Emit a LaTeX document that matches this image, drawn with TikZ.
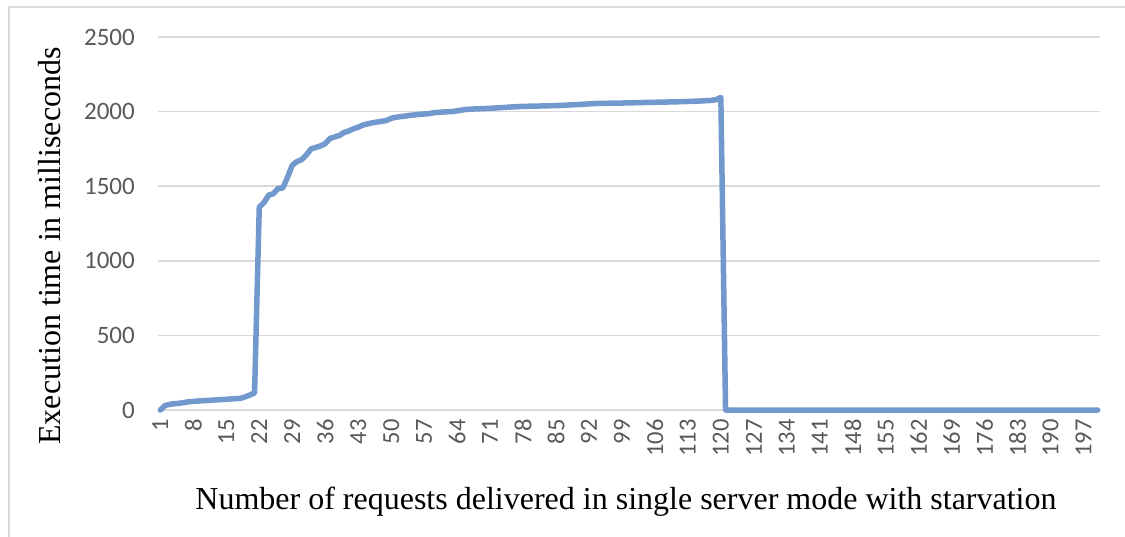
\documentclass[tikz,border=0pt]{standalone}
\usepackage{fontspec}
\setmainfont{Liberation Serif}
\newfontfamily\tickfont{Carlito}
\definecolor{gridgray}{HTML}{D9D9D9}
\definecolor{ticktext}{HTML}{595959}
\definecolor{seriesblue}{HTML}{7199CD}
\tikzset{
  gridline/.style={draw=gridgray, line width=1.5pt},
  framebox/.style={draw=gridgray, line width=2pt},
  ylab/.style={anchor=east, inner sep=0pt, text=ticktext, font=\tickfont\fontsize{25}{25}\selectfont},
  xlab/.style={anchor=east, rotate=90, inner sep=0pt, text=ticktext, font=\tickfont\fontsize{24.5}{25}\selectfont},
  axtitle/.style={inner sep=0pt, font=\fontsize{32}{32}\selectfont},
  series/.style={draw=seriesblue, line width=5.5pt, line join=round, line cap=round}
}
\begin{document}
\begin{tikzpicture}[x=1pt,y=-1pt]
\useasboundingbox (0,0) rectangle (1125,537);
% chart frame (top and left edges)
\draw[framebox] (1130,7) -- (9,7) -- (9,545);
% horizontal gridlines and value labels
\foreach \v in {0,500,...,2500}{
  \pgfmathsetmacro{\yy}{410-\v*0.1492}
  \draw[gridline] (158,\yy) -- (1100,\yy);
  \node[ylab] (yl\v) at (135,\yy) {\v};
}
% category labels, every seventh request
\foreach \c in {1,8,...,197}{
  \pgfmathsetmacro{\xx}{158+(\c-0.5)*4.71}
  \node[xlab] (xl\c) at (\xx,419) {\c};
}
% axis titles
\node[axtitle, rotate=90] (ytitle) at (50,246) {Execution time in milliseconds};
\node[axtitle] (xtitle) at (626,502) {Number of requests delivered in single server mode with starvation};
% execution time series
\begin{scope}[shift={(155.645,410)}, x=4.71pt, y=0.1492pt]
\draw[series] plot coordinates {
 (1,0) (2,30) (3,38) (4,42) (5,45) (6,50) (7,55) (8,58) (9,60) (10,62)
 (12,66) (14,70) (16,74) (18,78) (19,88) (20,100) (21,115)
 (22,1360) (23,1390) (24,1440) (25,1450) (26,1485) (27,1488) (28,1560)
 (29,1640) (30,1665) (31,1678) (32,1710) (33,1750) (34,1760) (35,1770)
 (36,1785) (37,1820) (38,1830) (39,1840) (40,1860) (41,1870) (42,1885)
 (43,1895) (44,1910) (45,1918) (46,1925) (47,1930) (48,1935) (49,1940)
 (50,1955) (51,1962) (52,1966) (53,1970) (54,1975) (55,1978) (56,1982)
 (57,1984) (58,1986) (59,1992) (60,1995) (62,1999) (63,2000) (64,2005)
 (65,2010) (66,2015) (68,2018) (71,2022) (75,2030) (78,2035) (85,2040)
 (90,2048) (94,2055) (100,2058) (105,2062) (110,2065) (115,2070)
 (118,2075) (119,2080) (120,2095) (121,0) (200,0)
};
\end{scope}
\end{tikzpicture}
\end{document}
